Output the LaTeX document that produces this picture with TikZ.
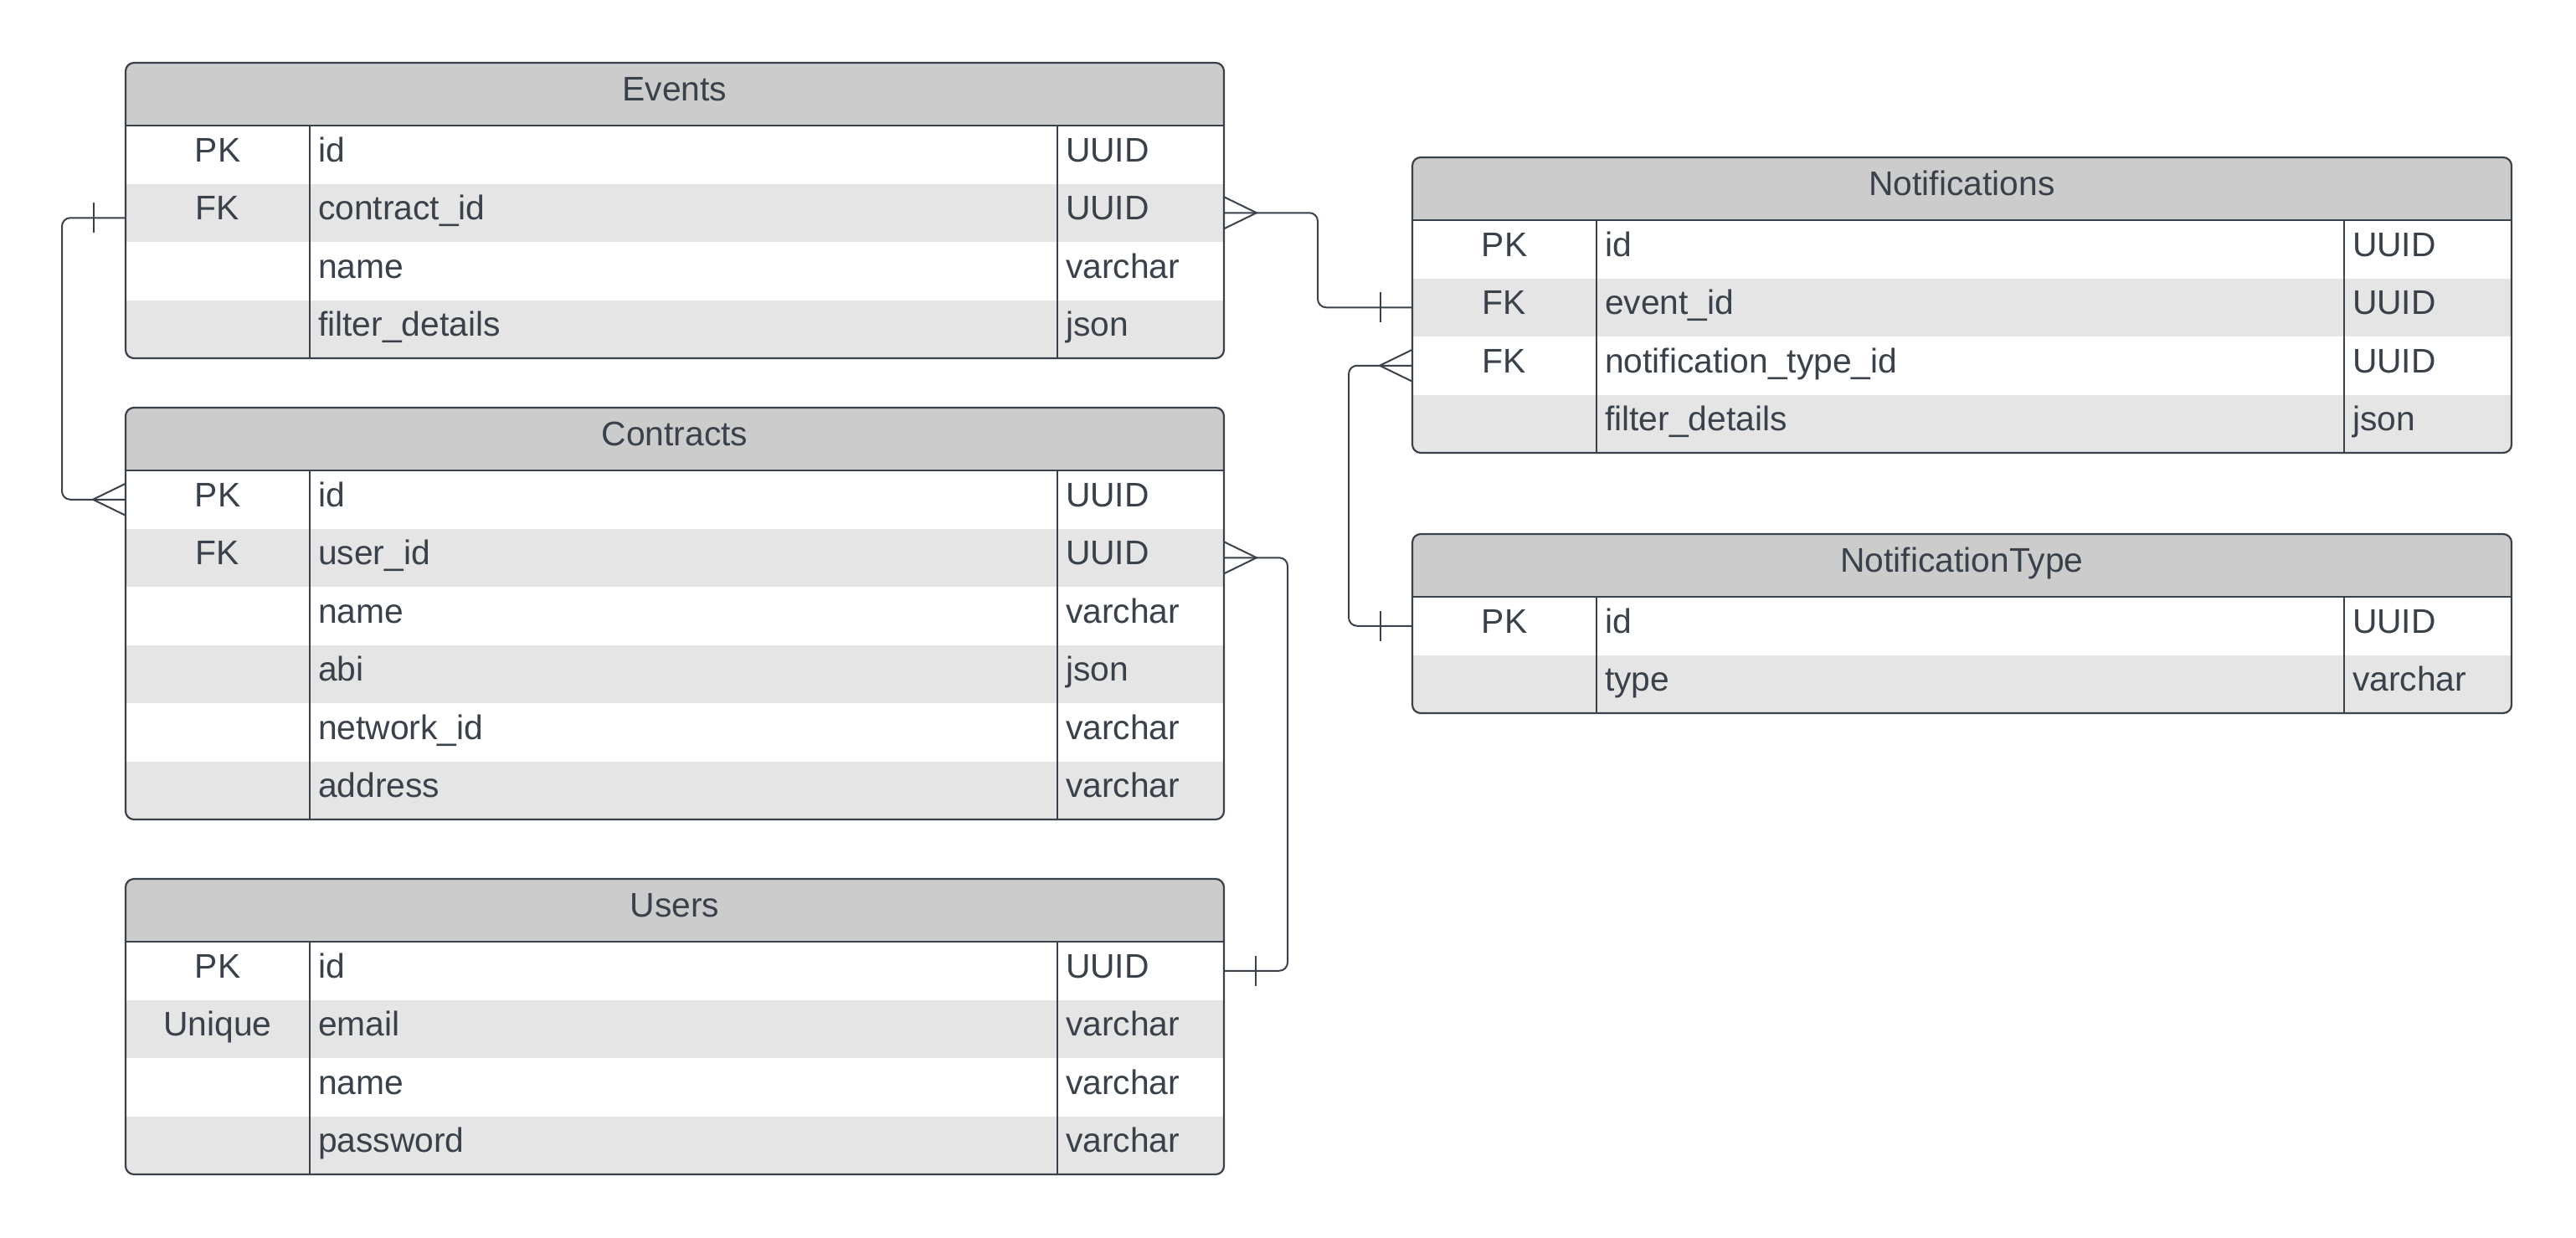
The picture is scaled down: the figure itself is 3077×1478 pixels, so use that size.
\documentclass[tikz,border=0pt]{standalone}
\usepackage{fontspec}
\setmainfont{Liberation Sans}
\usetikzlibrary{calc}
\definecolor{ink}{HTML}{3A414A}
\definecolor{hdrfill}{HTML}{CCCCCC}
\definecolor{altfill}{HTML}{E5E5E5}
\tikzset{
  cellbox/.style={draw=none, inner sep=0pt, outer sep=0pt},
  txt/.style={text=ink, inner sep=0pt, outer sep=0pt, font=\fontsize{20.4}{24}\selectfont},
  border/.style={draw=ink, line width=1.1pt, rounded corners=5pt},
  divider/.style={draw=ink, line width=0.75pt},
  hdrline/.style={draw=ink, line width=1.2pt},
  conn/.style={draw=ink, line width=1pt},
}
\newcommand\erdtable[7]{%
  \pgfmathsetmacro\tL{#2}%
  \pgfmathsetmacro\tT{#3}%
  \pgfmathsetmacro\tR{#2+#4}%
  \pgfmathsetmacro\tC{#2+#4/2}%
  \pgfmathsetmacro\tH{#3+75}%
  \pgfmathsetmacro\tB{#3+75+69.5*#5}%
  \pgfmathsetmacro\tDa{#2+220}%
  \pgfmathsetmacro\tDb{#2+1113}%
  \pgfmathsetmacro\tKc{#2+110}%
  \pgfmathsetmacro\tW{#4/2}%
  \begin{scope}
    \clip[rounded corners=5pt] (\tL,\tT) rectangle (\tR,\tB);
    \node[cellbox, fill=hdrfill, minimum width=\tW pt, minimum height=37.5pt] (#1-h) at (\tC,\tT+37.5) {};
    \foreach \ekey/\efield/\etype [count=\i] in {#7} {
      \pgfmathsetmacro\rT{\tH+69.5*(\i-1)}
      \ifodd\i\relax\def\rfill{white}\else\def\rfill{altfill}\fi
      \node[cellbox, fill=\rfill, minimum width=\tW pt, minimum height=34.75pt] (#1-\i) at (\tC,\rT+34.75) {};
      \ifx\ekey\empty\else
        \node[txt, anchor=base] (#1-\i-k) at (\tKc,\rT+43) {\ekey};
      \fi
      \node[txt, anchor=base west] (#1-\i-f) at (\tDa+10,\rT+43) {\efield};
      \node[txt, anchor=base west] (#1-\i-t) at (\tDb+10,\rT+43) {\etype};
    }
  \end{scope}
  \draw[border] (\tL,\tT) rectangle (\tR,\tB);
  \draw[hdrline] (\tL,\tH) -- (\tR,\tH);
  \draw[divider] (\tDa,\tH) -- (\tDa,\tB);
  \draw[divider] (\tDb,\tH) -- (\tDb,\tB);
  \node[txt, anchor=base] (#1-title) at (\tC,\tT+45.8) {#6};
}
\newcommand\crowfoot[2]{\draw[conn] ($(#1)+(0,-19)$) -- ($(#1)+({#2*39},0)$) -- ($(#1)+(0,19)$);}
\newcommand\onetick[2]{\draw[conn] ($(#1)+({#2*38},-18)$) -- ($(#1)+({#2*38},18)$);}
\begin{document}
\begin{tikzpicture}[x=0.5pt,y=-0.5pt]
\useasboundingbox (0,0) rectangle (3077,1478);
\fill[white] (0,0) rectangle (3077,1478);

\erdtable{ev}{150}{75}{1312}{4}{Events}{PK/id/UUID, FK/contract\_id/UUID, /name/varchar, /filter\_details/json}
\erdtable{co}{150}{487}{1312}{6}{Contracts}{PK/id/UUID, FK/user\_id/UUID, /name/varchar, /abi/json, /network\_id/varchar, /address/varchar}
\erdtable{us}{150}{1050}{1312}{4}{Users}{PK/id/UUID, Unique/email/varchar, /name/varchar, /password/varchar}
\erdtable{no}{1687}{188}{1313}{4}{Notifications}{PK/id/UUID, FK/event\_id/UUID, FK/notification\_type\_id/UUID, /filter\_details/json}
\erdtable{nt}{1687}{638}{1313}{2}{NotificationType}{PK/id/UUID, /type/varchar}

% Events.contract_id -> Contracts.id
\coordinate (evL) at ([yshift=-3pt]ev-2.west);
\draw[conn, rounded corners=5pt] (evL) -- ++(-76,0) |- (co-1.west);
\onetick{evL}{-1}
\crowfoot{co-1.west}{-1}

% Events.id -> Notifications.event_id
\draw[conn, rounded corners=5pt] (ev-2.east) -- ++(112,0) |- (no-2.west);
\crowfoot{ev-2.east}{1}
\onetick{no-2.west}{-1}

% Notifications.notification_type_id -> NotificationType.id
\draw[conn, rounded corners=5pt] (no-3.west) -- ++(-76,0) |- (nt-1.west);
\crowfoot{no-3.west}{-1}
\onetick{nt-1.west}{-1}

% Contracts.user_id -> Users.id
\draw[conn, rounded corners=5pt] (co-2.east) -- ++(76,0) |- (us-1.east);
\crowfoot{co-2.east}{1}
\onetick{us-1.east}{1}
\end{tikzpicture}
\end{document}
